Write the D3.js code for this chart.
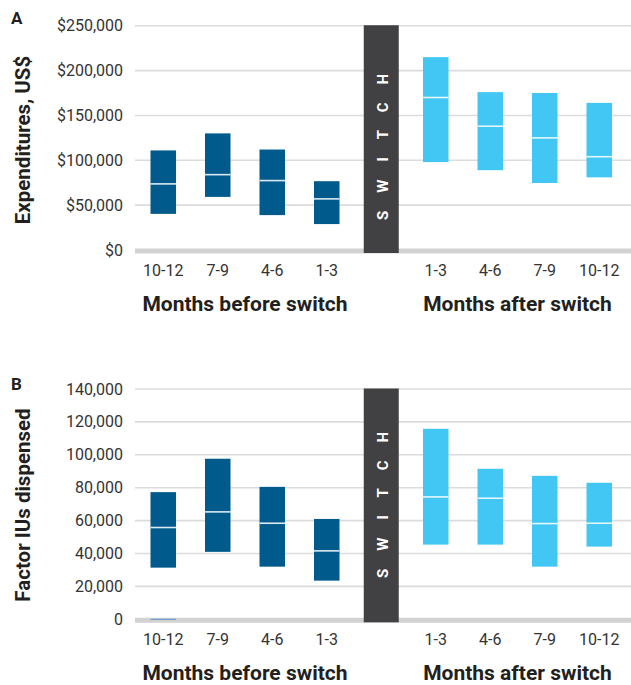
<!DOCTYPE html>
<html>
<head>
<meta charset="utf-8">
<script src="https://cdn.jsdelivr.net/npm/d3@7"></script>
<style>
  body { margin: 0; background: #fff; }
  text { font-family: Roboto, "Open Sans", sans-serif; }
</style>
</head>
<body>
<div id="chart"></div>
<script>
// Category slots (the middle one is the "switch" divider)
const slots = ['b10-12', 'b7-9', 'b4-6', 'b1-3', 'switch', 'a1-3', 'a4-6', 'a7-9', 'a10-12'];
const slotLabels = ['10-12', '7-9', '4-6', '1-3', '', '1-3', '4-6', '7-9', '10-12'];
const barSlots = ['b10-12', 'b7-9', 'b4-6', 'b1-3', 'a1-3', 'a4-6', 'a7-9', 'a10-12'];

// Panel A: expenditures, US$
const expLow = [40300, 59200, 38900, 28900, 98000, 89000, 74700, 81000];
const expMedian = [73700, 84000, 77400, 57000, 170000, 138000, 125000, 104000];
const expHigh = [111000, 130000, 112000, 76700, 215000, 176000, 175000, 164000];
const expTicks = [0, 50000, 100000, 150000, 200000, 250000];

// Panel B: factor IUs dispensed
const iuLow = [31400, 41000, 32000, 23500, 45400, 45400, 32000, 44200];
const iuMedian = [55800, 65300, 58400, 41600, 74400, 73600, 58200, 58400];
const iuHigh = [77300, 97600, 80500, 61000, 115800, 91500, 87200, 83000];
const iuTicks = [0, 20000, 40000, 60000, 80000, 100000, 120000, 140000];
// stray marker sitting on the baseline in panel B
const iuStray = [{ slot: 'b10-12', value: 0 }];

const width = 631, height = 685;
const darkBlue = '#005a8c', lightBlue = '#42c7f4';

const svg = d3.select('#chart').append('svg')
    .attr('width', width)
    .attr('height', height);

const x = d3.scalePoint().domain(slots).range([136, 626.5]).padding(0.5);
const barW = 25.5;
const switchW = 35;

function drawPanel(opts) {
    const y = d3.scaleLinear().domain([0, d3.max(opts.ticks)]).range([opts.bottom, opts.top]);
    const g = svg.append('g');

    // gridlines
    g.selectAll('line.grid')
        .data(opts.ticks.filter(t => t > 0))
        .enter().append('line')
        .attr('x1', 135).attr('x2', width)
        .attr('y1', d => y(d)).attr('y2', d => y(d))
        .attr('stroke', '#dcdcdc')
        .attr('stroke-width', 1.6);

    // thick baseline
    g.append('line')
        .attr('x1', 135).attr('x2', width)
        .attr('y1', y(0) + 1).attr('y2', y(0) + 1)
        .attr('stroke', '#d2d2d2')
        .attr('stroke-width', 5);

    // y tick labels
    g.selectAll('text.ytick')
        .data(opts.ticks)
        .enter().append('text')
        .attr('x', 123)
        .attr('y', d => y(d) + 5.5)
        .attr('text-anchor', 'end')
        .attr('fill', '#333')
        .style('font-size', '16px')
        .text(opts.format);

    // switch divider
    g.append('rect')
        .attr('x', x('switch') - switchW / 2)
        .attr('y', y(d3.max(opts.ticks)) - 0.5)
        .attr('width', switchW)
        .attr('height', y(0) - y(d3.max(opts.ticks)) + 3.5)
        .attr('fill', '#414042');

    g.append('text')
        .attr('transform', `translate(${x('switch') + 6.5}, ${y(opts.switchAt)}) rotate(-90)`)
        .attr('text-anchor', 'middle')
        .attr('fill', '#fff')
        .style('font-size', '15px')
        .style('font-weight', 'bold')
        .style('letter-spacing', '18px')
        .text('SWITCH');

    // range boxes
    const rows = barSlots.map((s, i) => ({ slot: s, low: opts.low[i], med: opts.median[i], high: opts.high[i] }));

    g.selectAll('rect.box')
        .data(rows)
        .enter().append('rect')
        .attr('x', d => x(d.slot) - barW / 2)
        .attr('y', d => y(d.high))
        .attr('width', barW)
        .attr('height', d => y(d.low) - y(d.high))
        .attr('fill', d => d.slot[0] === 'b' ? darkBlue : lightBlue);

    g.selectAll('line.median')
        .data(rows)
        .enter().append('line')
        .attr('x1', d => x(d.slot) - barW / 2)
        .attr('x2', d => x(d.slot) + barW / 2)
        .attr('y1', d => y(d.med)).attr('y2', d => y(d.med))
        .attr('stroke', d => d.slot[0] === 'b' ? '#dceaf3' : '#e4f7fe')
        .attr('stroke-width', 1.6);

    if (opts.stray) {
        g.selectAll('line.stray')
            .data(opts.stray)
            .enter().append('line')
            .attr('x1', d => x(d.slot) - barW / 2)
            .attr('x2', d => x(d.slot) + barW / 2)
            .attr('y1', d => y(d.value)).attr('y2', d => y(d.value))
            .attr('stroke', '#5b93d3')
            .attr('stroke-width', 1);
    }

    // x tick labels
    g.selectAll('text.xtick')
        .data(slots.filter(s => s !== 'switch'))
        .enter().append('text')
        .attr('x', d => x(d))
        .attr('y', y(0) + 25.5)
        .attr('text-anchor', 'middle')
        .attr('fill', '#333')
        .style('font-size', '16px')
        .text(d => slotLabels[slots.indexOf(d)]);

    // group titles
    const groupTitle = (label, a, b) => g.append('text')
        .attr('x', (x(a) + x(b)) / 2)
        .attr('y', y(0) + 61)
        .attr('text-anchor', 'middle')
        .attr('fill', '#231f20')
        .style('font-size', '21px')
        .style('font-weight', 'bold')
        .text(label);
    groupTitle('Months before switch', 'b10-12', 'b1-3');
    groupTitle('Months after switch', 'a1-3', 'a10-12');

    // panel letter
    g.append('text')
        .attr('x', 11)
        .attr('y', opts.letterY)
        .attr('fill', '#231f20')
        .style('font-size', '17px')
        .style('font-weight', 'bold')
        .text(opts.letter);

    // y title
    g.append('text')
        .attr('transform', `translate(30, ${opts.titleY}) rotate(-90)`)
        .attr('text-anchor', 'middle')
        .attr('fill', '#231f20')
        .style('font-size', '20.5px')
        .style('font-weight', 'bold')
        .text(opts.title);
}

drawPanel({
    letter: 'A', letterY: 24,
    title: 'Expenditures, US$', titleY: 140,
    ticks: expTicks, top: 25.75, bottom: 250,
    format: d => '$' + d3.format(',')(d),
    low: expLow, median: expMedian, high: expHigh,
    switchAt: 125000
});

drawPanel({
    letter: 'B', letterY: 390,
    title: 'Factor IUs dispensed', titleY: 505,
    ticks: iuTicks, top: 389, bottom: 619.3,
    format: d3.format(','),
    low: iuLow, median: iuMedian, high: iuHigh,
    stray: iuStray,
    switchAt: 75000
});
</script>
</body>
</html>
